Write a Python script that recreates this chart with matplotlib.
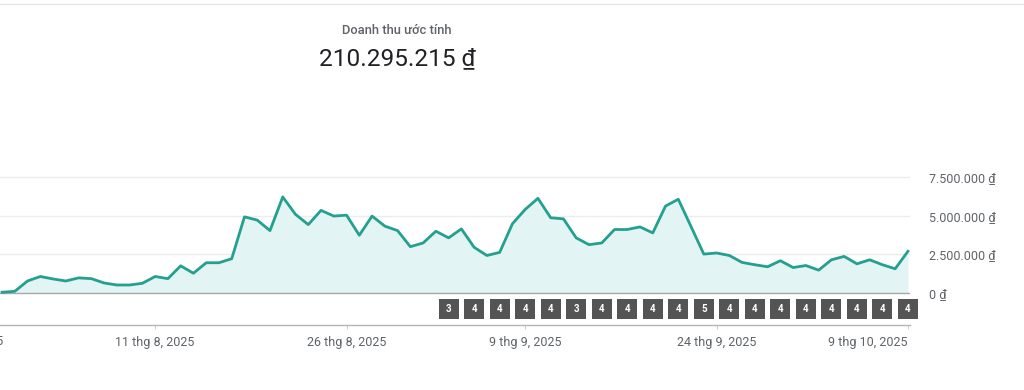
import numpy as np
import pandas as pd
import matplotlib
matplotlib.use('Agg')
import matplotlib.pyplot as plt
import matplotlib.dates as mdates
from matplotlib.lines import Line2D

plt.rcParams['font.family'] = ['Roboto', 'DejaVu Sans']

# doanh thu theo ngày (triệu đồng), 30/7 -> 9/10/2025
ngay = pd.date_range('2025-07-30', '2025-10-09', freq='D')
doanh_thu = [0.05, 0.11, 0.78, 1.07, 0.91, 0.78, 0.98, 0.93, 0.65, 0.52,
             0.52, 0.63, 1.07, 0.93, 1.76, 1.28, 1.96, 1.96, 2.22, 4.93,
             4.72, 4.04, 6.22, 5.09, 4.43, 5.35, 4.98, 5.04, 3.74, 4.98,
             4.33, 4.04, 3.00, 3.24, 4.00, 3.57, 4.15, 2.96, 2.43, 2.63,
             4.48, 5.41, 6.13, 4.87, 4.80, 3.57, 3.13, 3.24, 4.11, 4.11,
             4.28, 3.89, 5.63, 6.07, 4.30, 2.52, 2.59, 2.43, 1.98, 1.83,
             1.70, 2.09, 1.65, 1.78, 1.48, 2.15, 2.37, 1.89, 2.15, 1.83,
             1.57, 2.70]
doanh_thu = np.array(doanh_thu) * 1e6

# các ô đánh dấu (mỗi 2 ngày)
ngay_danh_dau = pd.date_range('2025-09-03', '2025-10-09', freq='2D')
so_danh_dau = [3, 4, 4, 4, 4, 3, 4, 4, 4, 4, 5, 4, 4, 4, 4, 4, 4, 4, 4]

ngay_tick = pd.to_datetime(['2025-07-27', '2025-08-11', '2025-08-26',
                            '2025-09-09', '2025-09-24', '2025-10-09'])
nhan_tick = ['27 thg 7, 2025', '11 thg 8, 2025', '26 thg 8, 2025',
             '9 thg 9, 2025', '24 thg 9, 2025', '9 thg 10, 2025']

muc_y = [0, 2.5e6, 5e6, 7.5e6]
nhan_y = ['0 ₫', '2.500.000 ₫', '5.000.000 ₫', '7.500.000 ₫']

tieu_de = 'Doanh thu ước tính'
tong = '210.295.215 ₫'

mau_line = '#23a08f'
mau_fill = '#e2f4f3'
mau_chu = '#5f6368'

fig = plt.figure(figsize=(10.24, 3.9), dpi=100)
ax = fig.add_axes([0, 1 - 325 / 390, 910 / 1024, 165 / 390])

x = mdates.date2num(ngay)
ax.fill_between(x, doanh_thu, 0, color=mau_fill, lw=0, zorder=1)
ax.plot(x, doanh_thu, color=mau_line, lw=2, zorder=3, solid_joinstyle='round')

ax.set_xlim(x[0] - 0.16, x[-1] + 0.16)
ax.set_ylim(-2.07e6, 8.61e6)

# lưới ngang
for v in muc_y[1:]:
    ax.axhline(v, color='#ececec', lw=1, zorder=0)
ax.axhline(0, color='#a9a9a9', lw=1, zorder=2)

for s in ['top', 'left', 'right']:
    ax.spines[s].set_visible(False)
ax.spines['bottom'].set_color('#b5b5b5')
ax.spines['bottom'].set_linewidth(1)

# nhãn trục y bên phải
ax.yaxis.tick_right()
ax.set_yticks(muc_y)
ax.set_yticklabels(nhan_y)
ax.tick_params(axis='y', length=0, pad=14, labelsize=9, labelcolor=mau_chu)

# nhãn trục x
xt = mdates.date2num(ngay_tick)
ax.set_xticks(xt[1:])
ax.set_xticklabels(nhan_tick[1:])
ax.tick_params(axis='x', length=3, color='#cfcfcf', pad=5, labelsize=9,
               labelcolor=mau_chu)
ax.get_xticklabels()[-1].set_horizontalalignment('right')
# nhãn bị cắt ở mép trái
ax.text(xt[0], -0.062, nhan_tick[0], transform=ax.get_xaxis_transform(),
        ha='center', va='top', fontsize=9, color=mau_chu, clip_on=False)

# ô đánh dấu
xd = mdates.date2num(ngay_danh_dau)
yd = np.full(len(xd), -1.04e6)
ax.scatter(xd, yd, marker='s', s=215, color='#545454', zorder=4,
           linewidths=0, clip_on=False)
for xi, yi, n in zip(xd, yd, so_danh_dau):
    ax.text(xi, yi, str(n), ha='center', va='center', fontsize=7,
            color='white', fontweight='bold', zorder=5, clip_on=False)

# tiêu đề
fig.text(397 / 1024, 1 - 31 / 390, tieu_de, ha='center', va='center',
         fontsize=9.3, color=mau_chu, fontweight='medium')
fig.text(397 / 1024, 1 - 59 / 390, tong, ha='center', va='center',
         fontsize=17.6, color='#202124')

fig.add_artist(Line2D([0, 1], [1 - 4 / 390, 1 - 4 / 390], color='#e6e6e6',
                      lw=1, transform=fig.transFigure))

fig.savefig('out.png', dpi=100, facecolor='white')
